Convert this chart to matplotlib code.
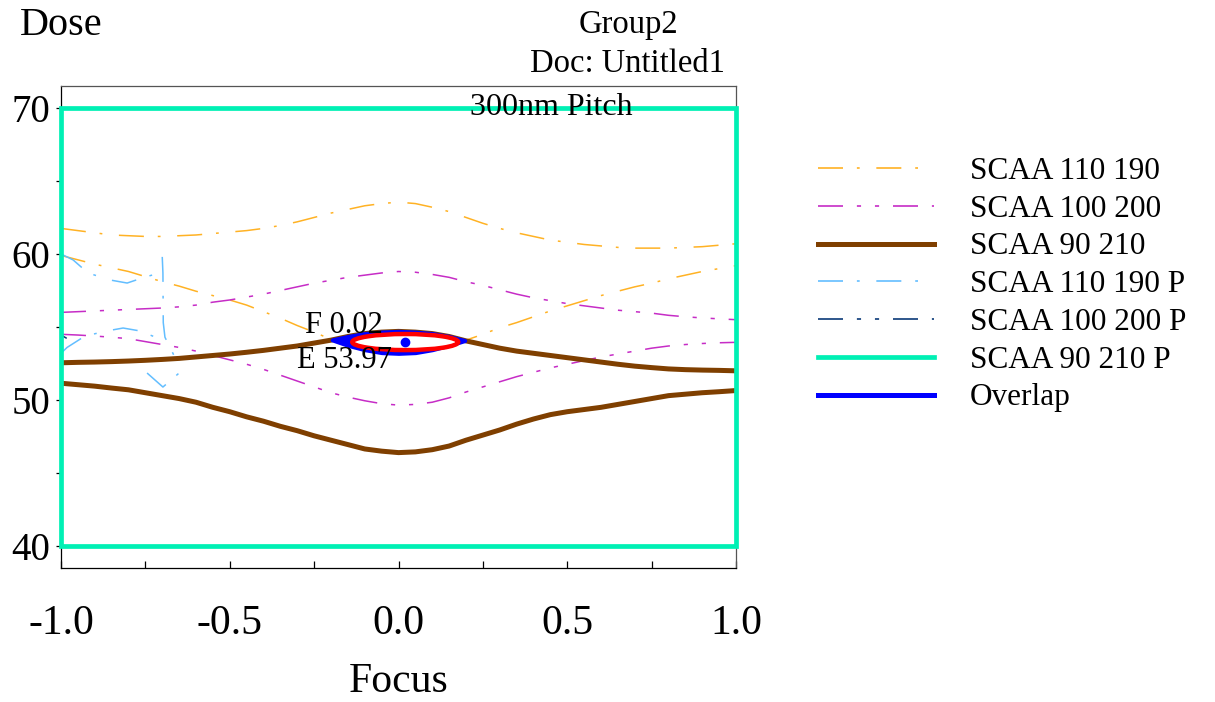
import numpy as np
import matplotlib
matplotlib.use("Agg")
import matplotlib.pyplot as plt
from matplotlib.patches import Ellipse, Rectangle
from matplotlib.lines import Line2D
from matplotlib.ticker import MultipleLocator, FormatStrFormatter

plt.rcParams['font.family'] = ['Liberation Serif', 'DejaVu Serif']
plt.rcParams['lines.scale_dashes'] = False

# Focus grid shared by the CD contour curves
focus = np.round(np.arange(-1.0, 1.0001, 0.05), 2)

# SCAA 110 190 (upper / lower dose contours)
scaa110_hi = [61.75, 61.6, 61.45, 61.3, 61.25, 61.2, 61.2, 61.25, 61.3, 61.4,
              61.5, 61.6, 61.75, 61.95, 62.2, 62.5, 62.8, 63.05, 63.3, 63.45,
              63.55, 63.45, 63.2, 62.9, 62.5, 62.1, 61.75, 61.45, 61.2, 60.95,
              60.8, 60.65, 60.55, 60.45, 60.4, 60.4, 60.4, 60.45, 60.5, 60.6, 60.7]
scaa110_lo = [59.9, 59.6, 59.3, 59.05, 58.8, 58.45, 58.1, 57.8, 57.45, 57.15,
              56.85, 56.5, 56.05, 55.6, 55.1, 54.65, 54.15, 53.75, 53.45, 53.25,
              53.2, 53.25, 53.45, 53.75, 54.1, 54.5, 54.95, 55.3, 55.7, 56.1,
              56.45, 56.8, 57.15, 57.45, 57.75, 58.0, 58.3, 58.55, 58.8, 59.0, 59.2]

# SCAA 100 200
scaa100_hi = [56.0, 56.05, 56.1, 56.15, 56.2, 56.25, 56.3, 56.38, 56.5, 56.7,
              56.85, 57.05, 57.25, 57.5, 57.75, 58.0, 58.2, 58.4, 58.55, 58.7,
              58.8, 58.75, 58.6, 58.4, 58.1, 57.85, 57.55, 57.25, 57.0, 56.8,
              56.6, 56.45, 56.3, 56.15, 56.05, 55.95, 55.8, 55.7, 55.62, 55.56, 55.5]
scaa100_lo = [54.5, 54.45, 54.38, 54.3, 54.2, 54.0, 53.8, 53.6, 53.35, 53.05,
              52.75, 52.45, 52.1, 51.7, 51.3, 50.9, 50.5, 50.2, 49.95, 49.75,
              49.65, 49.7, 49.85, 50.15, 50.55, 50.9, 51.25, 51.6, 51.9, 52.2,
              52.45, 52.7, 52.95, 53.15, 53.35, 53.55, 53.7, 53.8, 53.87, 53.92, 53.95]

# SCAA 90 210
scaa90_hi = [52.55, 52.58, 52.6, 52.63, 52.67, 52.72, 52.78, 52.85, 52.95, 53.05,
             53.15, 53.27, 53.4, 53.55, 53.7, 53.9, 54.1, 54.35, 54.55, 54.65,
             54.7, 54.65, 54.55, 54.35, 54.05, 53.8, 53.55, 53.35, 53.2, 53.05,
             52.9, 52.75, 52.6, 52.45, 52.32, 52.22, 52.13, 52.08, 52.05, 52.03, 52.0]
scaa90_lo = [51.15, 51.05, 50.95, 50.82, 50.7, 50.5, 50.3, 50.1, 49.85, 49.5,
             49.2, 48.85, 48.55, 48.2, 47.9, 47.55, 47.25, 46.95, 46.65, 46.5,
             46.4, 46.45, 46.6, 46.85, 47.25, 47.6, 47.95, 48.35, 48.7, 49.0,
             49.2, 49.35, 49.5, 49.7, 49.9, 50.1, 50.3, 50.4, 50.5, 50.57, 50.65]

# SCAA 110 190 P contour fragments (focus, dose)
p110_upper_f = [-1.0, -0.964, -0.92, -0.855, -0.804, -0.751, -0.707]
p110_upper_d = [60.0, 59.59, 58.70, 58.22, 58.01, 58.42, 58.70]
p110_vert_f = [-0.700, -0.698, -0.697, -0.692, -0.662]
p110_vert_d = [59.8, 58.7, 55.3, 54.3, 52.9]
p110_lower_f = [-1.0, -0.982, -0.929, -0.864, -0.816, -0.766, -0.707]
p110_lower_d = [53.2, 53.6, 54.38, 54.73, 54.93, 54.73, 54.18]
p110_v_f = [-0.745, -0.698, -0.650]
p110_v_d = [51.85, 50.89, 51.85]

# SCAA 100 200 P fragment
p100_f = [-1.0, -0.985]
p100_d = [54.45, 54.25]

# SCAA 90 210 P window
p90_focus = [-1.0, 1.0]
p90_dose = [40.0, 70.0]

# Best focus / exposure and its latitude ellipse
best_focus = 0.02
best_dose = 53.97
ellipse_focus_width = 0.314
ellipse_dose_height = 1.10

c_orange = '#FFB224'
c_magenta = '#C62CC6'
c_brown = '#7F3F00'
c_lblue = '#63BEFF'
c_navy = '#0A3A78'
c_green = '#00F0B4'
c_blue = '#0000FF'
c_red = '#FF0000'

ls_dashdot = (0, (18, 10, 2, 12))
ls_dashdotdot = (0, (18, 10, 3, 10, 3, 10))

fig = plt.figure(figsize=(12.15, 7.02), dpi=100)
ax = fig.add_axes([61 / 1215, 1 - 568 / 702, 675 / 1215, 482 / 702])

ax.plot(focus, scaa110_hi, color=c_orange, lw=1.1, ls=ls_dashdot, zorder=2)
ax.plot(focus, scaa110_lo, color=c_orange, lw=1.1, ls=ls_dashdot, zorder=2)
ax.plot(focus, scaa100_hi, color=c_magenta, lw=1.1, ls=ls_dashdotdot, zorder=2)
ax.plot(focus, scaa100_lo, color=c_magenta, lw=1.1, ls=ls_dashdotdot, zorder=2)
ax.plot(focus, scaa90_hi, color=c_brown, lw=3.6, solid_capstyle='butt', zorder=3)
ax.plot(focus, scaa90_lo, color=c_brown, lw=3.6, solid_capstyle='butt', zorder=3)

for fx, dy in [(p110_upper_f, p110_upper_d), (p110_vert_f, p110_vert_d),
               (p110_lower_f, p110_lower_d), (p110_v_f, p110_v_d)]:
    ax.plot(fx, dy, color=c_lblue, lw=1.1, ls=ls_dashdot, zorder=2)
ax.plot(p100_f, p100_d, color=c_navy, lw=1.1, zorder=2)

window = Rectangle((p90_focus[0], p90_dose[0]), p90_focus[1] - p90_focus[0],
                   p90_dose[1] - p90_dose[0], fill=False, edgecolor=c_green,
                   lw=3.4, zorder=4, clip_on=False)
ax.add_patch(window)

# Overlap of all process windows
f_arr = np.array(focus)
top = np.array(scaa90_hi)
bot = np.array(scaa110_lo)
inside = top >= bot
ax.fill_between(f_arr, bot, top, where=inside, interpolate=True,
                color=c_blue, lw=3.0, edgecolor=c_blue, zorder=5)

ax.add_patch(Ellipse((best_focus, best_dose), ellipse_focus_width,
                     ellipse_dose_height, fill=True, facecolor='white',
                     edgecolor=c_red, lw=3.2, zorder=6))
ax.plot([best_focus], [best_dose], 'o', color=c_blue, ms=6, zorder=7)

ax.annotate(f"F {best_focus:.2f}", (best_focus, best_dose), xytext=(-44, 12),
            textcoords='offset points', ha='center', va='center',
            fontsize=22, zorder=8)
ax.annotate(f"E {best_dose:.2f}", (best_focus, best_dose), xytext=(-44, -13),
            textcoords='offset points', ha='center', va='center',
            fontsize=22, zorder=8)

ax.set_xlim(-1.0, 1.0)
ax.set_ylim(38.5, 71.5)
ax.xaxis.set_major_locator(MultipleLocator(0.5))
ax.xaxis.set_minor_locator(MultipleLocator(0.25))
ax.yaxis.set_major_locator(MultipleLocator(10))
ax.yaxis.set_minor_locator(MultipleLocator(5))
ax.xaxis.set_major_formatter(FormatStrFormatter('%.1f'))
ax.tick_params(axis='x', which='both', direction='in', length=5, width=0.9,
               pad=26, labelsize=30)
ax.tick_params(axis='y', which='both', direction='out', length=3.6, width=0.9,
               pad=4, labelsize=28)
for side in ['top', 'right']:
    ax.spines[side].set_color('#555555')
    ax.spines[side].set_linewidth(0.9)
for side in ['left', 'bottom']:
    ax.spines[side].set_linewidth(0.9)

ax.set_xlabel('Focus', fontsize=30, labelpad=14)
fig.text(20 / 1215, 1 - 35 / 702, 'Dose', fontsize=29, va='baseline', ha='left')
fig.text(628 / 1215, 1 - 33 / 702, 'Group2', fontsize=23.5, va='baseline', ha='center')
fig.text(627 / 1215, 1 - 72 / 702, 'Doc: Untitled1', fontsize=23.5, va='baseline', ha='center')
ax.text(0.727, (568 - 115) / 482, '300nm Pitch', transform=ax.transAxes,
        fontsize=23, va='baseline', ha='center', zorder=9)

handles = [
    Line2D([], [], color=c_orange, lw=1.2, ls=ls_dashdot),
    Line2D([], [], color=c_magenta, lw=1.2, ls=ls_dashdotdot),
    Line2D([], [], color=c_brown, lw=3.6),
    Line2D([], [], color=c_lblue, lw=1.2, ls=ls_dashdot),
    Line2D([], [], color=c_navy, lw=1.2, ls=ls_dashdotdot),
    Line2D([], [], color=c_green, lw=3.4),
    Line2D([], [], color=c_blue, lw=3.6),
]
labels = ['SCAA 110 190', 'SCAA 100 200', 'SCAA 90 210', 'SCAA 110 190 P',
          'SCAA 100 200 P', 'SCAA 90 210 P', 'Overlap']
fig.legend(handles, labels, loc='upper left',
           bbox_to_anchor=(818 / 1215, 1 - 157 / 702),
           bbox_transform=fig.transFigure, frameon=False, fontsize=22.5,
           handlelength=3.7, handletextpad=1.15, labelspacing=0.28,
           borderpad=0, borderaxespad=0)

fig.savefig('out.png', dpi=100)
